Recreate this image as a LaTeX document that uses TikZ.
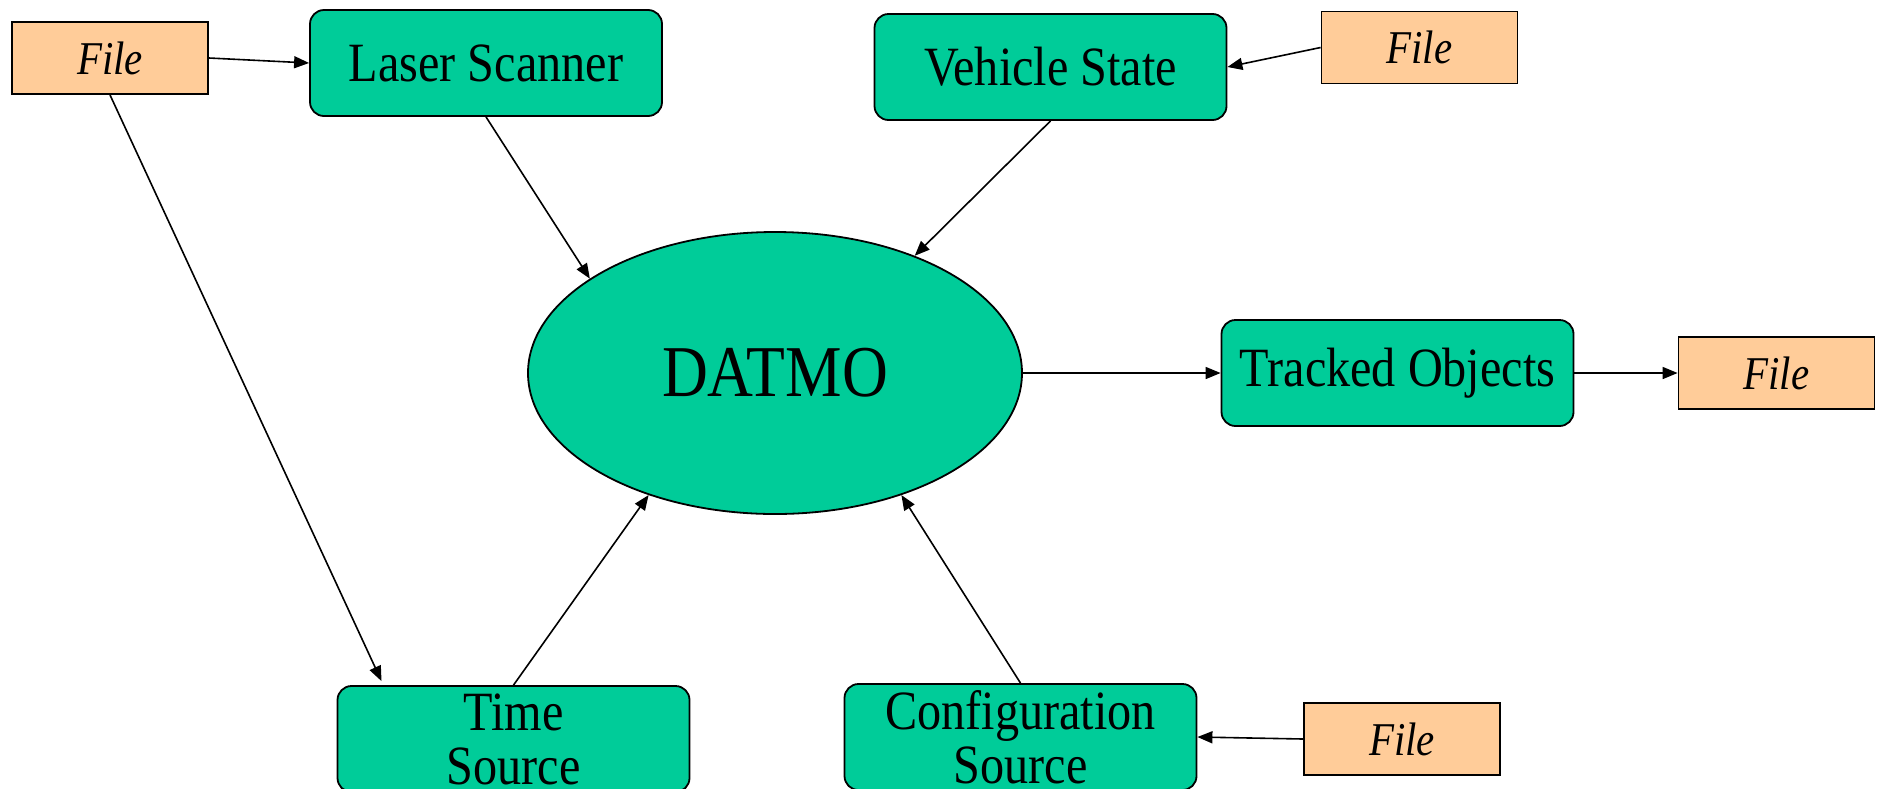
\documentclass[tikz,border=0pt]{standalone}
\usepackage{fontspec}
\setmainfont{Liberation Serif}[FakeStretch=0.87]
\usetikzlibrary{shapes.geometric,arrows.meta}

\definecolor{procgreen}{HTML}{00CC99}
\definecolor{filetan}{HTML}{FFCC99}

\tikzset{
  procbox/.style={draw=black, line width=0.9pt, fill=procgreen, rounded corners=7pt,
    minimum width=176pt, minimum height=53pt, inner sep=0pt, align=center,
    font=\fontsize{27.7}{27}\selectfont},
  filebox/.style={draw=black, line width=0.9pt, fill=filetan,
    minimum width=98pt, minimum height=36pt, inner sep=0pt,
    font=\fontsize{23.5}{26}\selectfont\itshape},
  core/.style={ellipse, draw=black, line width=0.9pt, fill=procgreen,
    minimum width=247pt, minimum height=141pt, inner sep=0pt,
    font=\fontsize{36.5}{40}\selectfont},
  flow/.style={line width=0.8pt, -{Triangle[length=7.5pt,width=6pt]}}
}

\begin{document}
\begin{tikzpicture}[x=0.5pt, y=-0.5pt]
  \useasboundingbox (0,0) rectangle (1882,788);

  % central module
  \node[core] (datmo) at (775,373) {DATMO};

  % processing blocks
  \node[procbox] (laser)   at (486,63)   {Laser Scanner};
  \node[procbox] (vehicle) at (1050.5,67) {Vehicle State};
  \node[procbox] (tracked) at (1397.5,373) {Tracked Objects};
  \node[procbox] (time)    at (513.5,739) {Time\\Source};
  \node[procbox] (config)  at (1020.5,737) {Configuration\\Source};

  % file sources and sinks
  \node[filebox] (f1) at (110,58)    {File};
  \node[filebox] (f2) at (1419.5,47.5) {File};
  \node[filebox] (f3) at (1776.5,373) {File};
  \node[filebox] (f4) at (1402,739)  {File};

  % data flow
  \draw[flow] (f1.east) -- (laser.west);
  \draw[flow] (f1.south) -- ([xshift=-66pt,yshift=2pt]time.north);
  \draw[flow] (laser.south) -- (datmo.153);
  \draw[flow] (vehicle.south) -- (datmo.40);
  \draw[flow] (f2.west) -- (vehicle.east);
  \draw[flow] (datmo.east) -- (tracked.west);
  \draw[flow] (tracked.east) -- (f3.west);
  \draw[flow] (time.north) -- (datmo.224);
  \draw[flow] (config.north) -- (datmo.316);
  \draw[flow] (f4.west) -- (config.east);
\end{tikzpicture}
\end{document}
